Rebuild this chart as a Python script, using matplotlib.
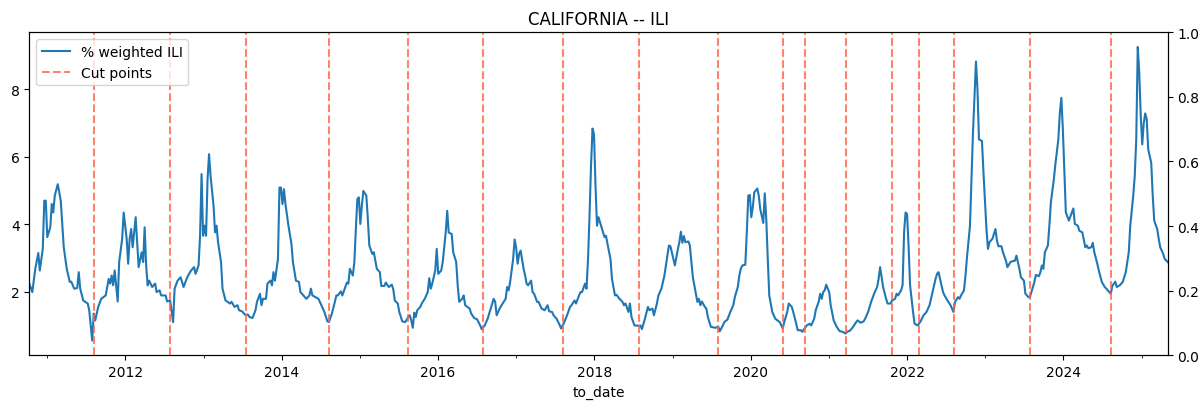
import numpy as np
import pandas as pd
import matplotlib
matplotlib.use("Agg")
import matplotlib.pyplot as plt
import matplotlib.dates as mdates

# ---- data (weekly series, week index counted from start_date) ----
start_date = "2010-10-09"

weeks = [
    0, 2, 4, 6, 7, 9, 10, 11, 12, 14, 15, 16, 17, 19, 21, 23, 25, 27, 28, 30,
    32, 33, 34, 36, 39, 40, 42, 43, 44, 46, 48, 51, 53, 54, 55, 56, 57, 59, 60, 62,
    63, 65, 66, 67, 68, 69, 71, 72, 73, 75, 76, 77, 78, 79, 80, 82, 84, 85, 87, 88,
    91, 92, 94, 96, 97, 99, 101, 103, 105, 106, 108, 110, 111, 113, 114, 115, 116, 117, 118, 119,
    120, 121, 123, 124, 125, 126, 128, 129, 131, 134, 135, 137, 139, 140, 142, 144, 146, 147, 149, 151,
    152, 154, 155, 156, 158, 159, 161, 162, 163, 164, 166, 167, 168, 169, 170, 171, 173, 175, 176, 178,
    180, 181, 183, 185, 187, 188, 189, 191, 193, 195, 197, 199, 200, 202, 204, 205, 206, 208, 209, 212,
    213, 214, 216, 217, 218, 219, 220, 221, 222, 223, 225, 226, 227, 229, 230, 232, 234, 235, 237, 238,
    240, 242, 243, 244, 246, 247, 249, 251, 253, 254, 255, 256, 257, 258, 259, 261, 262, 264, 266, 267,
    268, 269, 271, 272, 273, 275, 276, 278, 279, 280, 282, 283, 285, 286, 287, 289, 290, 291, 294, 295,
    297, 299, 301, 302, 304, 306, 308, 310, 311, 312, 314, 316, 318, 319, 320, 321, 323, 324, 325, 326,
    327, 328, 330, 331, 332, 333, 335, 336, 337, 339, 340, 342, 344, 346, 347, 349, 350, 352, 354, 355,
    357, 359, 361, 362, 364, 365, 367, 368, 369, 371, 372, 373, 374, 375, 376, 377, 378, 379, 380, 382,
    384, 385, 386, 388, 389, 391, 392, 394, 396, 397, 398, 400, 401, 402, 404, 407, 408, 409, 411, 413,
    414, 416, 417, 419, 420, 422, 424, 426, 427, 428, 430, 431, 433, 434, 435, 436, 437, 438, 440, 441,
    442, 443, 444, 446, 447, 448, 449, 451, 452, 453, 455, 458, 460, 461, 463, 464, 466, 468, 470, 471,
    473, 474, 475, 476, 478, 479, 480, 481, 482, 483, 484, 486, 487, 488, 490, 491, 492, 493, 494, 496,
    498, 501, 503, 504, 506, 507, 509, 510, 512, 513, 515, 516, 519, 521, 522, 524, 525, 527, 528, 529,
    530, 531, 532, 534, 535, 537, 539, 541, 543, 545, 546, 548, 550, 552, 553, 555, 557, 558, 560, 562,
    564, 566, 567, 568, 569, 570, 572, 573, 575, 576, 578, 579, 580, 582, 583, 584, 585, 586, 587, 588,
    590, 591, 593, 595, 597, 599, 601, 603, 605, 606, 607, 608, 610, 611, 613, 615, 617, 618, 620, 621,
    622, 624, 625, 626, 628, 629, 630, 632, 633, 634, 636, 637, 639, 640, 641, 643, 645, 646, 647, 649,
    650, 652, 653, 655, 656, 658, 659, 661, 662, 664, 665, 667, 668, 669, 671, 672, 674, 675, 676, 677,
    678, 680, 681, 682, 684, 685, 687, 688, 689, 690, 691, 692, 694, 696, 697, 698, 700, 701, 703, 705,
    706, 707, 709, 710, 711, 713, 714, 716, 718, 720, 722, 723, 725, 726, 728, 730, 732, 734, 735, 737,
    738, 739, 740, 741, 742, 743, 744, 745, 746, 747, 749, 750, 751, 753, 754, 755, 757, 758, 759, 760,
]

weighted_ili = [
    2.24, 1.99, 2.68, 3.15, 2.63, 3.27, 4.70, 4.70, 3.62, 3.91, 4.60, 4.35, 4.85, 5.19, 4.70, 3.32, 2.68, 2.29, 2.30, 2.09,
    2.11, 2.58, 2.09, 1.74, 1.65, 1.45, 0.55, 1.35, 1.15, 1.55, 1.79, 1.89, 2.38, 2.24, 2.48, 2.19, 2.63, 1.71, 2.88, 3.57,
    4.35, 3.57, 2.83, 3.57, 3.86, 3.32, 4.21, 3.47, 2.73, 3.17, 2.88, 3.91, 2.78, 2.19, 2.33, 2.14, 2.24, 1.99, 2.04, 1.89,
    1.89, 1.71, 1.74, 1.10, 2.09, 2.33, 2.43, 2.14, 2.38, 2.48, 2.63, 2.73, 2.53, 2.78, 3.66, 5.49, 3.66, 3.96, 3.66, 5.34,
    6.08, 5.44, 4.55, 3.76, 3.96, 3.47, 2.88, 2.09, 1.74, 1.65, 1.70, 1.55, 1.60, 1.45, 1.42, 1.32, 1.32, 1.25, 1.22, 1.45,
    1.70, 1.94, 1.60, 1.79, 1.79, 2.24, 2.33, 2.19, 2.58, 2.33, 2.97, 5.09, 5.09, 4.60, 5.04, 4.60, 3.96, 3.42, 2.88, 2.33,
    2.29, 1.99, 1.89, 1.79, 1.89, 2.09, 1.89, 1.84, 1.79, 1.60, 1.40, 1.12, 1.10, 1.35, 1.70, 1.89, 1.89, 2.01, 1.89, 2.27,
    2.24, 2.68, 2.48, 2.88, 3.86, 4.75, 4.80, 4.01, 4.55, 4.99, 4.85, 4.16, 3.37, 3.12, 3.17, 2.68, 2.58, 2.17, 2.17, 2.27,
    2.14, 2.21, 2.07, 1.74, 1.65, 1.40, 1.12, 1.10, 1.25, 1.30, 1.15, 0.93, 1.38, 1.25, 1.45, 1.55, 1.65, 1.79, 1.99, 2.40,
    2.09, 2.24, 2.63, 3.27, 2.53, 2.63, 2.88, 3.76, 4.40, 3.76, 3.71, 3.17, 2.88, 2.19, 1.70, 1.79, 1.89, 1.60, 1.50, 1.35,
    1.22, 1.18, 1.00, 0.89, 1.00, 1.20, 1.50, 1.79, 1.70, 1.30, 1.50, 1.65, 1.79, 2.14, 2.04, 2.29, 2.97, 3.55, 3.32, 2.83,
    3.12, 3.22, 2.68, 2.48, 2.24, 2.19, 2.33, 1.99, 1.94, 1.70, 1.70, 1.50, 1.45, 1.60, 1.42, 1.40, 1.30, 1.20, 1.02, 0.91,
    1.08, 1.30, 1.55, 1.60, 1.74, 1.65, 1.89, 1.99, 1.99, 2.24, 2.09, 2.97, 4.25, 5.73, 6.84, 6.67, 5.14, 3.96, 4.21, 3.91,
    3.62, 3.66, 3.42, 2.97, 2.38, 1.89, 1.91, 1.79, 1.70, 1.60, 1.65, 1.40, 1.65, 1.25, 1.00, 0.99, 1.00, 0.89, 1.20, 1.55,
    1.45, 1.50, 1.30, 1.65, 1.89, 2.09, 2.48, 3.07, 3.37, 3.35, 2.97, 2.78, 3.27, 3.47, 3.78, 3.45, 3.65, 3.47, 3.49, 3.37,
    2.88, 2.43, 2.19, 1.70, 1.79, 1.60, 1.71, 1.55, 1.50, 1.25, 0.96, 0.93, 0.96, 0.83, 1.00, 1.10, 1.17, 1.40, 1.60, 1.84,
    2.14, 2.48, 2.68, 2.78, 2.80, 3.76, 4.85, 4.87, 4.21, 4.50, 4.95, 5.06, 4.85, 4.45, 4.04, 4.92, 4.16, 2.97, 1.89, 1.40,
    1.20, 1.10, 0.91, 1.10, 1.40, 1.65, 1.55, 1.40, 1.05, 0.86, 0.86, 0.81, 1.00, 1.05, 1.00, 1.20, 1.45, 1.70, 1.94, 1.79,
    1.99, 2.04, 2.21, 1.99, 1.60, 1.15, 0.96, 0.83, 0.81, 0.76, 0.81, 0.85, 0.96, 1.10, 1.15, 1.08, 1.12, 1.20, 1.40, 1.70,
    1.94, 2.14, 2.38, 2.73, 2.43, 2.14, 1.79, 1.65, 1.65, 1.74, 1.79, 1.94, 1.89, 2.04, 2.19, 3.76, 4.35, 4.30, 3.37, 2.19,
    1.40, 1.05, 1.00, 1.12, 1.30, 1.40, 1.60, 1.99, 2.38, 2.53, 2.58, 2.38, 1.99, 1.89, 1.74, 1.60, 1.40, 1.70, 1.84, 1.79,
    1.89, 2.04, 2.48, 3.02, 3.96, 5.34, 6.72, 8.83, 8.00, 6.52, 6.47, 5.54, 3.86, 3.27, 3.47, 3.57, 3.86, 3.52, 3.35, 3.35,
    3.17, 2.92, 2.73, 2.88, 2.90, 2.92, 3.07, 2.68, 2.43, 2.33, 1.94, 1.84, 1.84, 1.99, 2.29, 2.50, 2.46, 2.58, 2.78, 2.68,
    3.17, 3.37, 3.96, 4.65, 5.34, 5.78, 6.52, 7.31, 7.75, 6.82, 5.54, 4.35, 4.11, 4.35, 4.47, 4.01, 3.96, 3.81, 3.76, 3.32,
    3.37, 3.29, 3.32, 3.45, 3.17, 2.83, 2.63, 2.29, 2.14, 2.04, 1.94, 2.17, 2.30, 2.14, 2.19, 2.29, 2.58, 3.17, 3.96, 4.85,
    5.44, 6.52, 9.26, 8.49, 7.21, 6.37, 7.00, 7.29, 7.11, 6.22, 5.83, 4.85, 4.11, 3.86, 3.57, 3.32, 3.12, 2.97, 2.93, 2.88,
]

cut_weeks = [43, 94, 145, 200, 253, 303, 356, 407, 460, 503, 518, 545, 576, 594, 617, 668, 722]

title = "CALIFORNIA -- ILI"
series_label = "% weighted ILI"
cut_label = "Cut points"
x_label = "to_date"

# ---- build dates ----
t0 = pd.Timestamp(start_date)
to_date = t0 + pd.to_timedelta(np.array(weeks) * 7, unit="D")
cut_dates = t0 + pd.to_timedelta(np.array(cut_weeks) * 7, unit="D")

fig = plt.figure(figsize=(12.03, 4.02), dpi=100)
ax = fig.add_axes([0.02436, 0.1137, 0.9463, 0.8035])

ax.plot(to_date, weighted_ili, color="#1f77b4", linewidth=1.5, label=series_label)
for i, d in enumerate(cut_dates):
    ax.axvline(d, color="tomato", alpha=0.8, linestyle="--", linewidth=1.5,
               label=cut_label if i == 0 else None)

ax.set_xlim(to_date[0], to_date[-1])
ax.xaxis.set_major_locator(mdates.YearLocator(2))
ax.xaxis.set_major_formatter(mdates.DateFormatter("%Y"))
ax.xaxis.set_minor_locator(mdates.YearLocator(1))
ax.set_xlabel(x_label)
ax.set_title(title)
ax.legend(loc="upper left")

ax2 = ax.twinx()
ax2.set_ylim(0, 1)

fig.savefig("out.png", dpi=100)
